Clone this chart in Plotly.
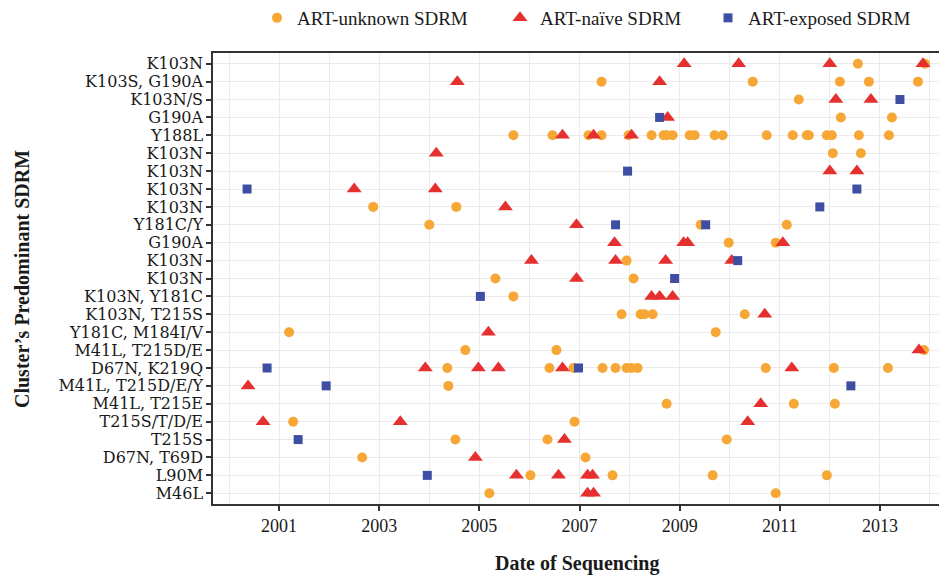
import plotly.graph_objects as go

# Row labels, top to bottom
categories = [
    "K103N", "K103S, G190A", "K103N/S", "G190A", "Y188L", "K103N", "K103N",
    "K103N", "K103N", "Y181C/Y", "G190A", "K103N", "K103N", "K103N, Y181C",
    "K103N, T215S", "Y181C, M184I/V", "M41L, T215D/E", "D67N, K219Q",
    "M41L, T215D/E/Y", "M41L, T215E", "T215S/T/D/E", "T215S", "D67N, T69D",
    "L90M", "M46L",
]

year_ticks = [2001, 2003, 2005, 2007, 2009, 2011, 2013]

# ART-unknown SDRM: (row index, decimal year of sequencing)
unknown_rows = [0, 0,
                1, 1, 1, 1, 1,
                2,
                3, 3,
                4, 4, 4, 4, 4, 4, 4, 4, 4, 4, 4, 4, 4, 4, 4, 4, 4, 4, 4, 4, 4,
                5, 5,
                8, 8,
                9, 9, 9,
                10, 10,
                11,
                12, 12,
                13,
                14, 14, 14, 14, 14,
                15, 15,
                16, 16, 16,
                17, 17, 17, 17, 17, 17, 17, 17, 17, 17, 17,
                18,
                19, 19, 19,
                20, 20,
                21, 21, 21,
                22, 22,
                23, 23, 23, 23,
                24, 24]
unknown_years = [2012.56, 2013.90,
                 2007.44, 2010.46, 2012.20, 2012.78, 2013.76,
                 2011.38,
                 2012.22, 2013.24,
                 2005.68, 2006.46, 2007.18, 2007.44, 2007.98, 2008.44, 2008.68,
                 2008.74, 2008.86, 2009.20, 2009.30, 2009.70, 2009.86, 2010.74,
                 2011.26, 2011.54, 2011.58, 2011.94, 2012.04, 2012.58, 2013.18,
                 2012.06, 2012.62,
                 2002.88, 2004.54,
                 2004.00, 2009.42, 2011.14,
                 2009.98, 2010.92,
                 2007.94,
                 2005.32, 2008.08,
                 2005.68,
                 2007.84, 2008.22, 2008.30, 2008.46, 2010.30,
                 2001.20, 2009.72,
                 2004.72, 2006.54, 2013.88,
                 2004.36, 2006.40, 2006.88, 2007.46, 2007.72, 2007.94, 2008.04,
                 2008.16, 2010.72, 2012.08, 2013.16,
                 2004.38,
                 2008.74, 2011.28, 2012.10,
                 2001.28, 2006.90,
                 2004.52, 2006.36, 2009.94,
                 2002.66, 2007.12,
                 2006.02, 2007.66, 2009.66, 2011.94,
                 2005.20, 2010.92]

# ART-naive SDRM
naive_rows = [0, 0, 0, 0,
              1, 1,
              2, 2,
              3,
              4, 4, 4,
              5,
              6, 6,
              7, 7,
              8,
              9,
              10, 10, 10, 10,
              11, 11, 11, 11,
              12,
              13, 13, 13,
              14,
              15,
              16,
              17, 17, 17, 17, 17,
              18,
              19,
              20, 20, 20,
              21,
              22,
              23, 23, 23, 23,
              24, 24]
naive_years = [2009.09, 2010.18, 2012.00, 2013.86,
               2004.56, 2008.60,
               2012.12, 2012.82,
               2008.76,
               2006.66, 2007.28, 2008.04,
               2004.14,
               2012.00, 2012.54,
               2002.50, 2004.12,
               2005.52,
               2006.94,
               2007.70, 2009.08, 2009.16, 2011.06,
               2006.04, 2007.72, 2008.72, 2010.04,
               2006.94,
               2008.44, 2008.60, 2008.86,
               2010.70,
               2005.18,
               2013.78,
               2003.92, 2004.98, 2005.38, 2006.66, 2011.24,
               2000.38,
               2010.62,
               2000.68, 2003.42, 2010.36,
               2006.70,
               2004.92,
               2005.74, 2006.58, 2007.16, 2007.26,
               2007.16, 2007.28]

# ART-exposed SDRM
exposed_rows = [2, 3, 6, 7, 7, 8, 9, 9, 11, 12, 13, 17, 17, 18, 18, 21, 23]
exposed_years = [2013.40, 2008.60, 2007.96, 2000.36, 2012.54, 2011.80,
                 2007.72, 2009.52, 2010.16, 2008.90, 2005.02, 2000.76,
                 2006.98, 2001.94, 2012.42, 2001.38, 2003.96]

SERIF = "Liberation Serif"
WIDE_SERIF = "DejaVu Serif"
INK = "#1a1a1a"

# figure geometry (page body adds an 8px offset)
W, H = 939, 568
L, R, T, B = 205, 7, 45, 72
PW, PH = W - L - R, H - T - B


def px_x(px):
    return (px - L) / PW


def px_y(py):
    return (H - B - py) / PH


fig = go.Figure()
fig.add_trace(go.Scatter(
    x=unknown_years, y=unknown_rows, mode="markers", name="ART-unknown SDRM",
    legend="legend",
    marker=dict(symbol="circle", size=10, color="#F6A735", line=dict(width=0)),
))
fig.add_trace(go.Scatter(
    x=naive_years, y=naive_rows, mode="markers", name="ART-naïve SDRM",
    legend="legend2",
    marker=dict(symbol="triangle-up", size=13, color="#E5302F", line=dict(width=0)),
))
fig.add_trace(go.Scatter(
    x=exposed_years, y=exposed_rows, mode="markers", name="ART-exposed SDRM",
    legend="legend3",
    marker=dict(symbol="square", size=9, color="#3D4EA3", line=dict(width=0)),
))

leg_common = dict(orientation="h", yref="container", yanchor="middle",
                  y=1 - 10 / H, xref="container", xanchor="left",
                  bgcolor="rgba(0,0,0,0)", borderwidth=0,
                  font=dict(family=SERIF, size=19, color=INK))

fig.update_layout(
    width=W, height=H,
    margin=dict(l=L, r=R, t=T, b=B, autoexpand=False),
    paper_bgcolor="white", plot_bgcolor="white",
    font=dict(family=SERIF, size=18, color=INK),
    showlegend=True,
    legend=dict(x=(269 - 20) / W, **leg_common),
    legend2=dict(x=(514 - 22) / W, **leg_common),
    legend3=dict(x=(722 - 22) / W, **leg_common),
    xaxis=dict(
        range=[1999.68, 2014.2], tickvals=year_ticks,
        ticktext=[str(y) for y in year_ticks],
        ticks="outside", ticklen=5, tickwidth=1.5, tickcolor="#333333",
        showgrid=True, gridcolor="#EBEBEB", gridwidth=1.2,
        minor=dict(dtick=1, tick0=2000, showgrid=True, gridcolor="#EBEBEB",
                   gridwidth=1.2, ticks=""),
        showline=True, linecolor="#333333", linewidth=1.5, mirror=True,
        zeroline=False, tickfont=dict(family=SERIF, size=18, color=INK),
    ),
    yaxis=dict(
        range=[24.6, -0.6], tickvals=list(range(len(categories))),
        ticktext=categories,
        ticks="outside", ticklen=5, tickwidth=1.5, tickcolor="#333333",
        showgrid=True, gridcolor="#EBEBEB", gridwidth=1.2,
        showline=True, linecolor="#333333", linewidth=1.5, mirror=True,
        zeroline=False, tickfont=dict(family=WIDE_SERIF, size=16, color=INK),
    ),
    annotations=[
        dict(text="<b>Date of Sequencing</b>", x=px_x(569), xref="paper",
             y=px_y(555), yref="paper", yanchor="middle", xanchor="center",
             showarrow=False, font=dict(family=SERIF, size=20, color=INK)),
        dict(text="<b>Cluster’s Predominant SDRM</b>", x=px_x(14), xref="paper",
             xanchor="center", y=px_y(271), yref="paper", yanchor="middle",
             showarrow=False, textangle=-90,
             font=dict(family=SERIF, size=20, color=INK)),
    ],
)

fig.write_html("out.html")
